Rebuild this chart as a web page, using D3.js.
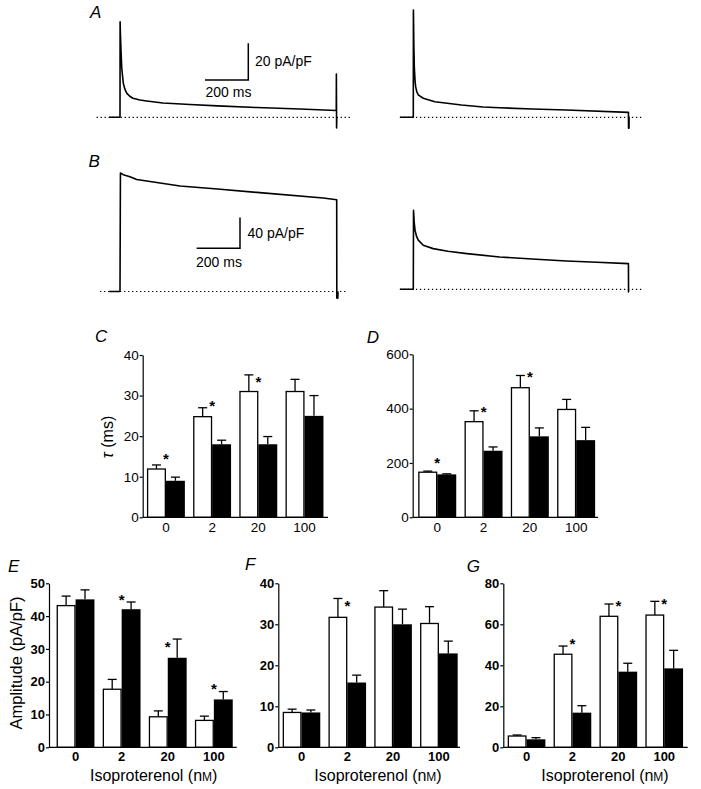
<!DOCTYPE html>
<html><head><meta charset="utf-8">
<script src="https://cdn.jsdelivr.net/npm/d3@7"></script>
<style>
html,body{margin:0;padding:0;background:#fff;}
svg{display:block;}
text{font-family:"Liberation Sans",Arial,sans-serif;fill:#000;}
</style></head>
<body>
<svg id="fig" width="701" height="789"></svg>
<script>
// ---------- DATA ----------
const categories = ["0", "2", "20", "100"];

// tau fast (ms) - panel C
const cWhite = [11.9, 24.8, 31, 31];
const cWhiteErr = [1, 2.2, 4.1, 3];
const cBlack = [9, 18, 18, 25];
const cBlackErr = [0.9, 1, 1.9, 5];
const cStar = [15.2, 28.4, 34.3, null];
const cTicks = [0, 10, 20, 30, 40];

// tau slow (ms) - panel D
const dWhite = [166, 352, 477, 397];
const dWhiteErr = [4, 40, 45, 37];
const dBlack = [158, 245, 298, 284];
const dBlackErr = [2, 14, 31, 47];
const dStar = [214, 401, 530, null];
const dTicks = [0, 200, 400, 600];

// amplitude - panel E
const eWhite = [43.2, 17.7, 9.3, 8.2];
const eWhiteErr = [2.9, 3, 1.8, 1.3];
const eBlack = [45.1, 42.1, 27.3, 14.6];
const eBlackErr = [2.9, 2.2, 5.7, 2.4];
const eStar = [null, 46.1, 31.7, 18.8];
const eTicks = [0, 10, 20, 30, 40, 50];

// amplitude - panel F
const fWhite = [8.5, 31.7, 34.2, 30.2];
const fWhiteErr = [0.8, 4.6, 4, 4.1];
const fBlack = [8.5, 15.8, 30, 22.9];
const fBlackErr = [0.6, 1.8, 3.7, 3];
const fStar = [null, 35.3, null, null];
const fTicks = [0, 10, 20, 30, 40];

// amplitude - panel G
const gWhite = [5.5, 45.4, 63.9, 64.5];
const gWhiteErr = [0.5, 4, 6, 6.7];
const gBlack = [3.9, 16.9, 36.9, 38.5];
const gBlackErr = [0.8, 3.4, 4.1, 8.8];
const gStar = [null, 52, 70.5, 71.4];
const gTicks = [0, 20, 40, 60, 80];

// current traces [time (ms), current (pA/pF)]
const traceALeft = [[-50,0],[0,0],[0.5,52],[2,45],[4.6,36.7],[8,27],[15,18.7],[22,15.5],[31,13.2],[45,11.5],[60,10.4],[92,9.4],[123,8.9],[198,7.8],[323,7.0],[450,6.2],[632,5.3],[830,4.5],[998,3.7],[998.5,23.6],[999.5,-5.8],[1000.5,0]];
const traceARight = [[-62,0],[0,0],[0.5,58.5],[2.5,40],[4.6,27.6],[8,20],[11,16.7],[16,14],[23,12.2],[46,10.4],[100,8.5],[223,6.7],[323,5.6],[400,5.2],[552,4.5],[709,4.0],[996,2.7],[996.5,-6],[998.5,-6],[999,0.5]];
const traceBLeft = [[-50,0],[0,0],[2,154.4],[15,152.2],[46,149.5],[77,146],[154,142.6],[277,137.5],[450,133.5],[631,129.1],[938,121.8],[1000,119.6],[1000.5,-8.6],[1003,-1],[1005,-8.6],[1006,0]];
const traceBRight = [[-62,0],[0,0],[1,103],[4,88],[8,77],[15,69],[23,64],[46,57.4],[92,53],[160,49.5],[248,46.5],[400,42.1],[550,39.5],[709,36.9],[850,35.2],[996,33.5],[996.5,-3.5],[998.5,-3.5]];

// ---------- DRAW ----------
const svg = d3.select("#fig");
svg.append("rect").attr("width",701).attr("height",789).attr("fill","#fff");
const FONT = '"Liberation Sans",Arial,sans-serif';

function panelLetter(t, x, y){
  svg.append("text").attr("x",x).attr("y",y).attr("font-size",17)
    .attr("font-style","italic").text(t);
}

// ---- traces ----
function trace(points, x0, x1, yBase, pxPerUnit, dotFrom, dotTo){
  const xs = d3.scaleLinear().domain([0,1000]).range([x0,x1]);
  const ys = d3.scaleLinear().domain([0,1]).range([yBase, yBase - pxPerUnit]);
  svg.append("line").attr("x1",xs(dotFrom)).attr("x2",xs(dotTo))
    .attr("y1",ys(0)).attr("y2",ys(0))
    .attr("stroke","#000").attr("stroke-width",1.2).attr("stroke-dasharray","1.3,2.7");
  const line = d3.line().x(d=>xs(d[0])).y(d=>ys(d[1])).curve(d3.curveLinear);
  svg.append("path").datum(points).attr("d",line).attr("fill","none")
    .attr("stroke","#000").attr("stroke-width",1.6).attr("stroke-linejoin","round");
  return {xs, ys};
}
function scaleBar(cx, cy, pxPerMs, pxPerUnit, ms, unit, label1, label2, l1x, l1y, l2x, l2y){
  const hlen = ms*pxPerMs, vlen = unit*pxPerUnit;
  svg.append("path").attr("d",`M${cx-hlen},${cy}H${cx}V${cy-vlen}`)
    .attr("fill","none").attr("stroke","#000").attr("stroke-width",1.5);
  svg.append("text").attr("x",l1x).attr("y",l1y).attr("font-size",14).text(label1);
  svg.append("text").attr("x",l2x).attr("y",l2y).attr("font-size",14).text(label2);
}

const pxPerMs = (336.7-120)/1000;
const aUnit = 36.7/20;   // px per pA/pF in A
const bUnit = 30.7/40;   // px per pA/pF in B

panelLetter("A", 90, 18);
trace(traceALeft, 120, 336.7, 117.3, aUnit, -108, 1062);
trace(traceARight, 413.3, 629.3, 117.3, aUnit, -62, 1062);
scaleBar(248.3, 80, pxPerMs, aUnit, 200, 20, "20 pA/pF", "200 ms", 255, 66, 205.5, 96.5);

panelLetter("B", 88.5, 167);
trace(traceBLeft, 120, 336.7, 291.5, bUnit, -92, 1050);
trace(traceBRight, 413.3, 629.3, 289.3, bUnit, -62, 1062);
scaleBar(240, 248.3, pxPerMs, bUnit, 200, 40, "40 pA/pF", "200 ms", 247.5, 238, 196, 266.5);

// ---- bar panels ----
function barPanel(cfg){
  const {white, whiteErr, black, blackErr, star, ticks, ymax, axisX, axisEnd, r0, r1, yTop, yBottom, bold, labelOffset} = cfg;
  const x = d3.scaleBand().domain(categories).range([r0, r1]).paddingInner(0.18).paddingOuter(0.09);
  const sub = d3.scaleBand().domain(["w","b"]).range([0, x.bandwidth()]);
  const y = d3.scaleLinear().domain([0, ymax]).range([yBottom, yTop]);
  const g = svg.append("g");
  const rows = categories.map((c,i)=>({c, w:white[i], we:whiteErr[i], b:black[i], be:blackErr[i], s:star[i]}));
  const capW = 4.5;
  rows.forEach(r=>{
    [["w",r.w,r.we],["b",r.b,r.be]].forEach(([k,v,e])=>{
      const cx = x(r.c) + sub(k) + sub.bandwidth()/2;
      g.append("line").attr("x1",cx).attr("x2",cx).attr("y1",y(v)).attr("y2",y(v+e))
        .attr("stroke","#000").attr("stroke-width",1.3);
      g.append("line").attr("x1",cx-capW).attr("x2",cx+capW).attr("y1",y(v+e)).attr("y2",y(v+e))
        .attr("stroke","#000").attr("stroke-width",1.3);
    });
  });
  g.selectAll(".bw").data(rows).join("rect")
    .attr("x",d=>x(d.c)+sub("w")+0.6).attr("y",d=>y(d.w))
    .attr("width",sub.bandwidth()-1.2).attr("height",d=>y(0)-y(d.w))
    .attr("fill","#fff").attr("stroke","#000").attr("stroke-width",1.3);
  g.selectAll(".bb").data(rows).join("rect")
    .attr("x",d=>x(d.c)+sub("b")).attr("y",d=>y(d.b))
    .attr("width",sub.bandwidth()).attr("height",d=>y(0)-y(d.b))
    .attr("fill","#000");
  g.selectAll(".st").data(rows.filter(d=>d.s!=null)).join("text")
    .attr("x",d=>x(d.c)+x.bandwidth()/2).attr("y",d=>y(d.s)+8.5)
    .attr("text-anchor","middle").attr("font-size",15).attr("font-weight","bold").text("*");
  const ya = svg.append("g").attr("transform",`translate(${axisX},0)`)
    .call(d3.axisLeft(y).tickValues(ticks).tickSize(3).tickPadding(1).tickSizeOuter(0).tickFormat(d3.format("d")));
  ya.selectAll("path,line").attr("stroke","#000").attr("stroke-width",1.2);
  ya.selectAll("text").attr("font-family",FONT).attr("font-size",bold?13:13.5)
    .attr("font-weight",bold?"bold":"normal").attr("fill","#000");
  svg.append("line").attr("x1",axisX).attr("x2",axisEnd).attr("y1",y(0)).attr("y2",y(0))
    .attr("stroke","#000").attr("stroke-width",1.2);
  const xa = svg.append("g").attr("transform",`translate(0,${y(0)})`)
    .call(d3.axisBottom(x).tickSize(0).tickPadding(labelOffset));
  xa.select(".domain").remove();
  xa.selectAll("text").attr("font-family",FONT).attr("font-size",bold?13:13.5)
    .attr("font-weight",bold?"bold":"normal").attr("fill","#000");
  return {x,y};
}

panelLetter("C", 95, 342);
barPanel({white:cWhite, whiteErr:cWhiteErr, black:cBlack, blackErr:cBlackErr, star:cStar, ticks:cTicks, ymax:40,
  axisX:142.7, axisEnd:328, r0:142.84, r1:327.6, yTop:355, yBottom:517.3, bold:false, labelOffset:5});
svg.append("text").attr("transform","translate(113,437) rotate(-90)").attr("text-anchor","middle")
  .attr("font-size",16).html('<tspan font-style="italic">τ</tspan> (ms)');

panelLetter("D", 366.7, 343);
barPanel({white:dWhite, whiteErr:dWhiteErr, black:dBlack, blackErr:dBlackErr, star:dStar, ticks:dTicks, ymax:600,
  axisX:412.7, axisEnd:598, r0:414.1, r1:599.3, yTop:354.3, yBottom:517.3, bold:false, labelOffset:5});

panelLetter("E", 8, 572);
barPanel({white:eWhite, whiteErr:eWhiteErr, black:eBlack, blackErr:eBlackErr, star:eStar, ticks:eTicks, ymax:50,
  axisX:49, axisEnd:236.7, r0:52.5, r1:236.9, yTop:583.3, yBottom:747.3, bold:true, labelOffset:4});
svg.append("text").attr("transform","translate(21.5,663) rotate(-90)").attr("text-anchor","middle")
  .attr("font-size",16.5).text("Amplitude (pA/pF)");

panelLetter("F", 245, 570);
barPanel({white:fWhite, whiteErr:fWhiteErr, black:fBlack, blackErr:fBlackErr, star:fStar, ticks:fTicks, ymax:40,
  axisX:278.3, axisEnd:460, r0:278.6, r1:461.8, yTop:583.3, yBottom:747.3, bold:true, labelOffset:4});

panelLetter("G", 466.7, 572);
barPanel({white:gWhite, whiteErr:gWhiteErr, black:gBlack, blackErr:gBlackErr, star:gStar, ticks:gTicks, ymax:80,
  axisX:503.3, axisEnd:687.7, r0:503.6, r1:687.2, yTop:583.3, yBottom:747.3, bold:true, labelOffset:4});

[153.7, 378, 605].forEach(cx=>{
  svg.append("text").attr("x",cx).attr("y",780.5).attr("text-anchor","middle").attr("font-size",16)
    .html('Isoproterenol (n<tspan font-size="12">M</tspan>)');
});
</script>
</body></html>
